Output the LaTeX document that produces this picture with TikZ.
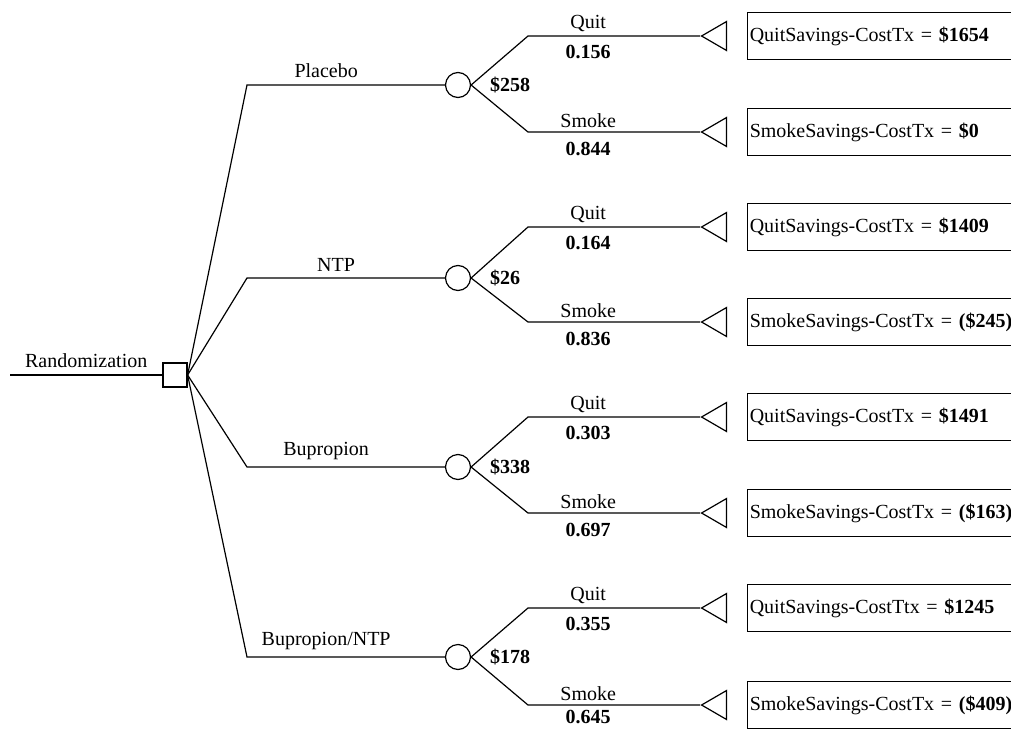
\documentclass[tikz,border=0pt]{standalone}
\usepackage{fontspec}
\setmainfont{Liberation Serif}
\usetikzlibrary{positioning, shapes.geometric}

\begin{document}
\begin{tikzpicture}[x=1pt, y=-1pt, line width=1.2pt, font=\fontsize{20}{24}\selectfont,
        decision/.style={draw, rectangle, minimum size=24pt, inner sep=0pt},
        chance/.style={draw, circle, minimum size=25pt, inner sep=0pt},
        terminal/.style={draw, isosceles triangle, shape border rotate=180, isosceles triangle stretches,
                         minimum width=29pt, minimum height=25pt, inner sep=0pt, anchor=apex},
        payoff/.style={draw, rectangle, right=20pt of #1, minimum height=47pt, text width=284pt, align=left, inner xsep=2pt}]
        \useasboundingbox (0,0) rectangle (1011,728);
        \clip (0,0) rectangle (1011,728);

        % decision node
        \coordinate                                         (root)      at (10,375);
        \node[decision]                                     (rand)      at (175,375) {};
        \draw (root) -- node[above=3pt] {Randomization} (rand);

        % strategies
        \coordinate                                         (e pl)      at (247,85);
        \coordinate                                         (e ntp)     at (247,278);
        \coordinate                                         (e bup)     at (247,467);
        \coordinate                                         (e bn)      at (247,657);
        \node[chance]                                       (c pl)      at (458,85)  {};
        \node[chance]                                       (c ntp)     at (458,278) {};
        \node[chance]                                       (c bup)     at (458,467) {};
        \node[chance]                                       (c bn)      at (458,657) {};
        \node[right=15pt of c pl]                           (v pl)      {\textbf{\$258}};
        \node[right=15pt of c ntp]                          (v ntp)     {\textbf{\$26}};
        \node[right=15pt of c bup]                          (v bup)     {\textbf{\$338}};
        \node[right=15pt of c bn]                           (v bn)      {\textbf{\$178}};

        \draw (rand.east) -- (e pl)  -- node[above=3pt, pos=0.4]  {Placebo}       (c pl);
        \draw (rand.east) -- (e ntp) -- node[above=3pt, pos=0.45] {NTP}           (c ntp);
        \draw (rand.east) -- (e bup) -- node[above=3pt, pos=0.4]  {Bupropion}     (c bup);
        \draw (rand.east) -- (e bn)  -- node[above=3pt, pos=0.4]  {Bupropion/NTP} (c bn);

        % outcomes
        \coordinate                                         (q pl)      at (528,36);
        \coordinate                                         (s pl)      at (528,132);
        \coordinate                                         (q ntp)     at (528,227);
        \coordinate                                         (s ntp)     at (528,322);
        \coordinate                                         (q bup)     at (528,417);
        \coordinate                                         (s bup)     at (528,513);
        \coordinate                                         (q bn)      at (528,608);
        \coordinate                                         (s bn)      at (528,705);
        \node[terminal]                                     (t pl q)    at (700,36)  {};
        \node[terminal]                                     (t pl s)    at (700,132) {};
        \node[terminal]                                     (t ntp q)   at (700,227) {};
        \node[terminal]                                     (t ntp s)   at (700,322) {};
        \node[terminal]                                     (t bup q)   at (700,417) {};
        \node[terminal]                                     (t bup s)   at (700,513) {};
        \node[terminal]                                     (t bn q)    at (700,608) {};
        \node[terminal]                                     (t bn s)    at (700,705) {};

        \draw (c pl.east)  -- (q pl)  -- node[above, pos=0.35] {Quit}  node[below=5pt, pos=0.35] {\textbf{0.156}} (t pl q.apex);
        \draw (c pl.east)  -- (s pl)  -- node[above, pos=0.35] {Smoke} node[below=6pt, pos=0.35] {\textbf{0.844}} (t pl s.apex);
        \draw (c ntp.east) -- (q ntp) -- node[above, pos=0.35] {Quit}  node[below=5pt, pos=0.35] {\textbf{0.164}} (t ntp q.apex);
        \draw (c ntp.east) -- (s ntp) -- node[above, pos=0.35] {Smoke} node[below=6pt, pos=0.35] {\textbf{0.836}} (t ntp s.apex);
        \draw (c bup.east) -- (q bup) -- node[above, pos=0.35] {Quit}  node[below=5pt, pos=0.35] {\textbf{0.303}} (t bup q.apex);
        \draw (c bup.east) -- (s bup) -- node[above, pos=0.35] {Smoke} node[below=6pt, pos=0.35] {\textbf{0.697}} (t bup s.apex);
        \draw (c bn.east)  -- (q bn)  -- node[above, pos=0.35] {Quit}  node[below=5pt, pos=0.35] {\textbf{0.355}} (t bn q.apex);
        \draw (c bn.east)  -- (s bn)  -- node[above, pos=0.35] {Smoke} node[below=1pt, pos=0.35] {\textbf{0.645}} (t bn s.apex);

        % payoffs
        \node[payoff=t pl q]                                (p pl q)    {QuitSavings-CostTx = \textbf{\$1654}};
        \node[payoff=t pl s]                                (p pl s)    {SmokeSavings-CostTx = \textbf{\$0}};
        \node[payoff=t ntp q]                               (p ntp q)   {QuitSavings-CostTx = \textbf{\$1409}};
        \node[payoff=t ntp s]                               (p ntp s)   {SmokeSavings-CostTx = \textbf{(\$245)}};
        \node[payoff=t bup q]                               (p bup q)   {QuitSavings-CostTx = \textbf{\$1491}};
        \node[payoff=t bup s]                               (p bup s)   {SmokeSavings-CostTx = \textbf{(\$163)}};
        \node[payoff=t bn q]                                (p bn q)    {QuitSavings-CostTtx = \textbf{\$1245}};
        \node[payoff=t bn s]                                (p bn s)    {SmokeSavings-CostTx = \textbf{(\$409)}};
    \end{tikzpicture}
\end{document}
